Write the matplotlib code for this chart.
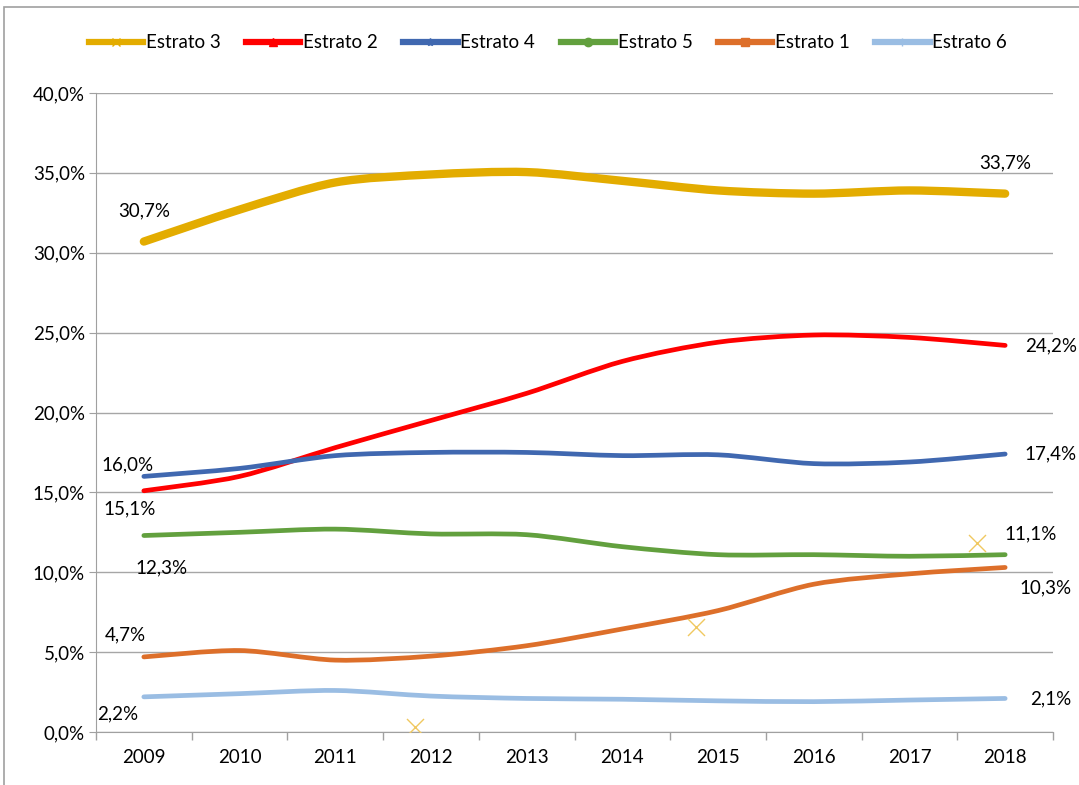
import numpy as np
import matplotlib
matplotlib.use("Agg")
import matplotlib.pyplot as plt
from matplotlib.path import Path
from matplotlib.patches import PathPatch, Rectangle
from matplotlib.lines import Line2D

plt.rcParams['font.family'] = ['Lato', 'DejaVu Sans']

years = ["2009", "2010", "2011", "2012", "2013", "2014", "2015", "2016", "2017", "2018"]
estrato3 = [30.7, 32.7, 34.4, 34.9, 35.05, 34.5, 33.9, 33.7, 33.9, 33.7]
estrato2 = [15.1, 16.0, 17.8, 19.5, 21.2, 23.2, 24.4, 24.85, 24.7, 24.2]
estrato4 = [16.0, 16.5, 17.3, 17.5, 17.5, 17.3, 17.35, 16.8, 16.9, 17.4]
estrato5 = [12.3, 12.5, 12.7, 12.4, 12.35, 11.6, 11.1, 11.1, 11.0, 11.1]
estrato1 = [4.7, 5.1, 4.5, 4.75, 5.4, 6.45, 7.6, 9.25, 9.9, 10.3]
estrato6 = [2.2, 2.4, 2.6, 2.25, 2.1, 2.05, 1.95, 1.9, 2.0, 2.1]
stray_x = [2.83, 5.77, 8.71]
stray_y = [0.3, 6.6, 11.8]
yticks = [0, 5, 10, 15, 20, 25, 30, 35, 40]

series = [
    ("Estrato 3", estrato3, "#E3AC00", 6.0, "x"),
    ("Estrato 2", estrato2, "#FF0000", 3.4, "^"),
    ("Estrato 4", estrato4, "#4068B0", 3.4, "*"),
    ("Estrato 5", estrato5, "#62A03E", 3.4, "o"),
    ("Estrato 1", estrato1, "#DD6F2A", 3.4, "s"),
    ("Estrato 6", estrato6, "#9ABDE3", 3.4, "+"),
]

FS = 13.5

def smooth_path(xs, ys, k=7.0):
    pts = np.column_stack([xs, ys]).astype(float)
    n = len(pts)
    verts = [pts[0]]
    codes = [Path.MOVETO]
    for i in range(n - 1):
        p0 = pts[i - 1] if i > 0 else pts[i]
        p1 = pts[i]
        p2 = pts[i + 1]
        p3 = pts[i + 2] if i + 2 < n else pts[i + 1]
        c1 = p1 + (p2 - p0) / k
        c2 = p2 - (p3 - p1) / k
        verts += [c1, c2, p2]
        codes += [Path.CURVE4] * 3
    return Path(verts, codes)

fig = plt.figure(figsize=(10.79, 7.85), dpi=100)
ax = fig.add_axes([96/1079, 1-732/785, (1053-96)/1079, (732-93)/785])

x = np.arange(len(years))
for name, vals, col, lw, mk in series:
    patch = PathPatch(smooth_path(x, vals), fill=False, edgecolor=col, lw=lw,
                      capstyle='round', joinstyle='round', zorder=3)
    ax.add_patch(patch)

ax.scatter(stray_x, stray_y, marker='x', s=150, color='#F0C860', linewidths=1.0, zorder=4)

ax.set_xlim(-0.5, len(years) - 0.5)
ax.set_ylim(0, 40)
ax.set_yticks(yticks)
ax.set_yticklabels([f"{v:.1f}%".replace('.', ',') for v in yticks])
ax.set_xticks(x)
ax.set_xticklabels(years)
ax.tick_params(axis='x', length=0, labelsize=FS, pad=12)
ax.set_xticks(np.arange(-0.5, len(years), 1), minor=True)
ax.tick_params(axis='x', which='minor', length=6, color='#A0A0A0', width=1)
ax.tick_params(axis='y', length=5, color='#A0A0A0', labelsize=FS, pad=3)
ax.grid(axis='y', color='#A6A6A6', lw=1)
ax.set_axisbelow(True)
for s in ['top', 'right']:
    ax.spines[s].set_visible(False)
ax.spines['left'].set_color('#A0A0A0')
ax.spines['bottom'].set_color('#A0A0A0')

def lab(xi, v, dx, dy, ha='center'):
    ax.annotate(f"{v:.1f}%".replace('.', ','), (xi, v), xytext=(dx, dy),
                textcoords='offset points', ha=ha, va='center', fontsize=FS)

lab(0, estrato3[0], 0, 22)
lab(9, estrato3[-1], 0, 22)
lab(9, estrato2[-1], 33, 0)
lab(0, estrato4[0], -12, 8)
lab(0, estrato2[0], -10, -13)
lab(9, estrato4[-1], 33, 0)
lab(0, estrato5[0], 13, -23)
lab(9, estrato5[-1], 18, 15)
lab(9, estrato1[-1], 29, -15)
lab(0, estrato1[0], -13, 16)
lab(0, estrato6[0], -19, -12)
lab(9, estrato6[-1], 33, 0)

handles = [Line2D([0], [0], color=col, lw=4.5, marker=mk, markersize=6,
                  markerfacecolor=col, markeredgecolor=col, markeredgewidth=1)
           for name, vals, col, lw, mk in series]
fig.legend(handles, [s[0] for s in series], loc='center',
           bbox_to_anchor=(548/1079, 1-43/785), ncol=6, frameon=False,
           fontsize=FS, handlelength=2.9, columnspacing=1.35, handletextpad=0.15)

fig.add_artist(Rectangle((4/1079, -0.1), 1.2, 1.1 - 7/785, transform=fig.transFigure,
                         fill=False, edgecolor='#A0A0A0', lw=1.2))

fig.savefig("out.png", dpi=100)
